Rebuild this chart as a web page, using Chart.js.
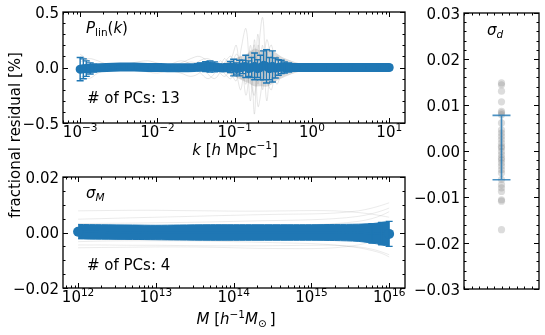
<!DOCTYPE html>
<html>
<head>
<meta charset="utf-8">
<script src="https://cdn.jsdelivr.net/npm/chart.js@4/dist/chart.umd.min.js"></script>
<style>
html, body { margin: 0; padding: 0; background: #fff; }
#wrap { position: relative; width: 545px; height: 335px; }
#wrap canvas { position: absolute; left: 0; top: 0; }
</style>
</head>
<body>
<div id="wrap">
  <canvas id="pk" width="545" height="335"></canvas>
  <canvas id="hmf" width="545" height="335"></canvas>
  <canvas id="sd" width="545" height="335"></canvas>
</div>
<script>
const BLUE = '#1f77b4';
const FONT = '"DejaVu Sans"';

// ---- top panel: P_lin(k) residuals [%] ----
const kPts = [0.001, 0.0011, 0.0012, 0.00135, 0.0015, 0.0018, 0.0022, 0.0027, 0.0033, 0.004,
  0.005, 0.006, 0.0075, 0.009, 0.011, 0.0135, 0.0165, 0.02, 0.025, 0.03,
  0.036, 0.042, 0.048, 0.055, 0.062, 0.07, 0.079, 0.088, 0.097, 0.106,
  0.116, 0.127, 0.139, 0.152, 0.166, 0.181, 0.198, 0.216, 0.236, 0.258,
  0.282, 0.308, 0.336, 0.367, 0.4, 0.44, 0.5, 0.58, 0.7, 0.85,
  1.0, 1.5, 2.2, 3.3, 5, 7.5, 10];
const pkMean = [-0.015, -0.012, -0.01, -0.008, -0.005, -0.003, 0.0, 0.002, 0.004, 0.005,
  0.004, 0.002, 0.0, 0.0, 0.0, -0.002, -0.003, -0.003, -0.002, 0.0,
  0.005, 0.008, 0.01, 0.006, 0.0, -0.005, 0.0, 0.005, 0.0, -0.01,
  -0.005, 0.005, 0.01, -0.01, 0.0, 0.01, -0.01, 0.0, 0.02, 0.01,
  -0.01, 0.01, -0.005, 0.0, 0.005, 0.0, 0.0, 0.0, 0.0, 0.0,
  0.0, 0.0, 0.0, 0.0, 0.0, 0.0, 0.0];
const pkErr = [0.105, 0.09, 0.07, 0.05, 0.035, 0.02, 0.015, 0.015, 0.02, 0.025,
  0.025, 0.02, 0.02, 0.02, 0.02, 0.02, 0.02, 0.02, 0.025, 0.025,
  0.035, 0.045, 0.05, 0.045, 0.03, 0.025, 0.035, 0.05, 0.075, 0.05,
  0.07, 0.06, 0.1, 0.07, 0.09, 0.12, 0.08, 0.11, 0.13, 0.15,
  0.1, 0.14, 0.09, 0.07, 0.06, 0.05, 0.04, 0.03, 0.025, 0.02,
  0.02, 0.02, 0.02, 0.02, 0.02, 0.02, 0.02];

const kGray = [0.001, 0.0013, 0.0017, 0.0022, 0.003, 0.004, 0.0055, 0.0075, 0.01, 0.014,
  0.02, 0.027, 0.035, 0.045, 0.055, 0.065, 0.075, 0.09, 0.105, 0.12,
  0.14, 0.16, 0.18, 0.2, 0.23, 0.26, 0.3, 0.35, 0.4, 0.47,
  0.55, 0.7, 1, 2, 5, 10];
const pkGray1 = [0.1, 0.05, 0.02, 0.0, -0.01, 0.0, 0.02, 0.03, 0.02, 0.0, -0.02, 0.0, 0.06, 0.08, 0.03, -0.05, -0.08, 0.0, 0.12, 0.05, -0.15, 0.2, -0.1, 0.3, -0.2, 0.15, -0.1, 0.08, -0.05, 0.03, 0.02, 0.02, 0.02, 0.02, 0.02, 0.02];
const pkGray2 = [-0.08, -0.1, -0.05, -0.02, 0.0, 0.01, 0.0, -0.02, -0.03, -0.01, 0.02, 0.05, 0.02, -0.06, -0.1, -0.04, 0.05, 0.1, -0.05, -0.2, 0.1, -0.3, 0.25, -0.15, 0.2, -0.3, 0.1, -0.05, 0.04, -0.02, -0.02, -0.02, -0.02, -0.02, -0.02, -0.02];
const pkGray3 = [0.05, 0.08, 0.06, 0.03, 0.02, 0.03, 0.05, 0.06, 0.04, 0.02, 0.04, 0.08, 0.1, 0.05, -0.02, 0.02, 0.08, -0.05, -0.12, 0.15, 0.35, -0.1, -0.25, 0.1, 0.45, -0.1, -0.2, 0.1, 0.05, -0.04, 0.02, 0.01, 0.01, 0.01, 0.01, 0.01];
const pkGray4 = [-0.02, -0.03, -0.04, -0.03, -0.02, -0.01, -0.02, -0.04, -0.05, -0.03, -0.05, -0.08, -0.05, 0.02, 0.05, 0.0, -0.06, -0.1, 0.05, 0.1, -0.25, 0.05, 0.2, -0.35, -0.1, 0.25, 0.05, -0.15, -0.06, 0.02, -0.02, -0.01, -0.01, -0.01, -0.01, -0.01];
const pkGray5 = [0.12, 0.06, 0.0, -0.03, -0.02, 0.0, 0.01, 0.0, -0.01, 0.02, 0.06, 0.03, -0.04, -0.1, -0.05, 0.06, 0.02, 0.08, 0.2, -0.1, 0.05, 0.15, -0.42, 0.2, -0.05, 0.1, 0.2, -0.08, 0.02, 0.05, -0.01, 0.0, 0.0, 0.0, 0.0, 0.0];

const kDense = [0.06, 0.08, 0.1, 0.12, 0.15, 0.18, 0.22, 0.27, 0.33, 0.4, 0.5, 0.6, 0.8, 1.2, 3, 10];
const denseUp = [0.03, 0.05, 0.08, 0.1, 0.13, 0.17, 0.15, 0.17, 0.14, 0.1, 0.07, 0.05, 0.03, 0.025, 0.02, 0.02];
const denseDn = [-0.03, -0.05, -0.08, -0.11, -0.14, -0.17, -0.17, -0.17, -0.13, -0.1, -0.07, -0.05, -0.03, -0.025, -0.02, -0.02];

const pkExp = ['−3', '−2', '−1', '0', '1'];
const pkYTicks = [-0.5, 0, 0.5];
const pkYLabels = ['−0.5', '0.0', '0.5'];

// ---- bottom panel: sigma_M residuals ----
const mGrid = [1e12, 2e12, 5e12, 1e13, 2e13, 5e13, 1e14, 2e14, 5e14, 1e15, 2e15, 4e15, 6e15, 8e15, 1e16];
const hmfMean = [0.0003, 0.0002, 0.0001, 0, 0, 0, 0, 0, 0, 0, 0, -0.0001, -0.0003, -0.0004, -0.0005];
const hmfErr = [0.0026, 0.0026, 0.0026, 0.0026, 0.0027, 0.0028, 0.0028, 0.0028, 0.0028, 0.0028, 0.0029, 0.0031, 0.0035, 0.004, 0.0045];
const hmfGray1 = [0.0078, 0.0079, 0.008, 0.008, 0.0079, 0.0078, 0.0077, 0.0077, 0.0078, 0.0079, 0.0078, 0.0072, 0.0066, 0.006, 0.0055];
const hmfGray2 = [0.0048, 0.005, 0.0053, 0.0055, 0.0057, 0.006, 0.0062, 0.0064, 0.0066, 0.0067, 0.007, 0.0078, 0.0088, 0.0098, 0.0107];
const hmfGray3 = [-0.0045, -0.0045, -0.0046, -0.0046, -0.0047, -0.0048, -0.0048, -0.0048, -0.0047, -0.0046, -0.0046, -0.0052, -0.006, -0.007, -0.008];
const hmfGray4 = [-0.0033, -0.0031, -0.003, -0.003, -0.003, -0.0031, -0.0033, -0.0035, -0.0038, -0.004, -0.0045, -0.0055, -0.0065, -0.0075, -0.0088];
const hmfGray5 = [0.0032, 0.0033, 0.0034, 0.0035, 0.0036, 0.0038, 0.004, 0.0042, 0.0044, 0.0046, 0.005, 0.0058, 0.0068, 0.0078, 0.0088];
const hmfGray6 = [-0.0055, -0.0054, -0.0053, -0.0052, -0.0052, -0.0053, -0.0055, -0.0057, -0.0058, -0.0058, -0.0055, -0.0045, -0.0032, -0.0018, -0.0005];
const hmfGray7 = [0.0018, 0.0019, 0.002, 0.002, 0.0021, 0.0022, 0.0023, 0.0024, 0.0026, 0.0028, 0.0032, 0.004, 0.005, 0.0062, 0.0075];

const hmfExp = ['12', '13', '14', '15', '16'];
const hmfYTicks = [-0.02, 0, 0.02];
const hmfYLabels = ['−0.02', '0.00', '0.02'];

// ---- right panel: sigma_d ----
const sdVals = [0.0148, 0.0144, 0.013, 0.0107, 0.0086, 0.0083, 0.0079, 0.0061, 0.0046, 0.0039,
  0.0032, 0.0025, 0.0017, 0.001, 0.0007, -0.0001, -0.0008, -0.0015, -0.0019, -0.0026,
  -0.0033, -0.0041, -0.0048, -0.0062, -0.0073, -0.008, -0.0088, -0.0106, -0.0109, -0.0171];
const sdMean = 0.00075;
const sdErr = 0.007;
const sdYTicks = [-0.03, -0.02, -0.01, 0, 0.01, 0.02, 0.03];
const sdYLabels = ['−0.03', '−0.02', '−0.01', '0.00', '0.01', '0.02', '0.03'];

function xy(xs, ys) { return xs.map((x, i) => ({ x: x, y: ys[i] })); }

function rich(ctx, parts, x, y, align, size) {
  const runs = parts.map(p => {
    const s = (p.sup || p.sub) ? size * 0.7 : size;
    const font = (p.i ? 'italic ' : '') + s + 'px ' + FONT;
    ctx.font = font;
    return { p: p, font: font, w: ctx.measureText(p.t).width };
  });
  const total = runs.reduce((s, r) => s + r.w, 0);
  let cx = align === 'center' ? x - total / 2 : (align === 'right' ? x - total : x);
  ctx.textAlign = 'left';
  ctx.textBaseline = 'alphabetic';
  runs.forEach(r => {
    ctx.font = r.font;
    const dy = r.p.sup ? -size * 0.38 : (r.p.sub ? size * 0.18 : 0);
    ctx.fillText(r.p.t, cx, y + dy);
    cx += r.w;
  });
}

// frame, inward ticks on all sides, labels, error bars
const deco = {
  id: 'deco',
  afterDatasetsDraw(chart, args, o) {
    const ctx = chart.ctx, a = chart.chartArea;
    const xs = chart.scales.x, ys = chart.scales.y;
    ctx.save();
    if (o.err) {
      const e = o.err;
      ctx.strokeStyle = e.color;
      ctx.lineWidth = e.width;
      e.x.forEach((xv, i) => {
        const px = xs.getPixelForValue(xv);
        const t = ys.getPixelForValue(e.y[i] + e.e[i]);
        const b = ys.getPixelForValue(e.y[i] - e.e[i]);
        ctx.beginPath();
        ctx.moveTo(px, t); ctx.lineTo(px, b);
        ctx.moveTo(px - e.cap, t); ctx.lineTo(px + e.cap, t);
        ctx.moveTo(px - e.cap, b); ctx.lineTo(px + e.cap, b);
        ctx.stroke();
      });
    }
    ctx.strokeStyle = '#000';
    ctx.lineWidth = 1;
    const seg = (x1, y1, x2, y2) => { ctx.beginPath(); ctx.moveTo(x1, y1); ctx.lineTo(x2, y2); ctx.stroke(); };
    const xt = (v, len) => {
      const p = Math.round(xs.getPixelForValue(v)) + 0.5;
      if (p < a.left || p > a.right) return;
      seg(p, a.bottom, p, a.bottom - len); seg(p, a.top, p, a.top + len);
    };
    const yt = (v, len) => {
      const p = Math.round(ys.getPixelForValue(v)) + 0.5;
      if (p < a.top - 1 || p > a.bottom + 1) return;
      seg(a.left, p, a.left + len, p); seg(a.right, p, a.right - len, p);
    };
    if (o.logx) {
      for (let e = o.logx.from - 1; e <= o.logx.from + o.logx.exp.length; e++) {
        for (let m = 2; m <= 9; m++) xt(m * Math.pow(10, e), 2.5);
      }
      ctx.fillStyle = '#000';
      o.logx.exp.forEach((ex, i) => {
        const v = Math.pow(10, o.logx.from + i);
        xt(v, 5);
        rich(ctx, [{ t: '10' }, { t: ex, sup: true }], xs.getPixelForValue(v), o.logx.base, 'center', 15);
      });
    }
    if (o.linx) {
      for (let i = 0; i <= o.linx.n; i++) xt(o.linx.min + i * o.linx.step, 2.5);
    }
    for (let i = 0; i <= o.yminor.n; i++) yt(o.yminor.min + i * o.yminor.step, 2.5);
    ctx.fillStyle = '#000';
    ctx.font = '15px ' + FONT;
    o.yticks.forEach((v, i) => {
      yt(v, 5);
      ctx.textAlign = 'right';
      ctx.textBaseline = 'alphabetic';
      ctx.fillText(o.ylabels[i], a.left - 4, ys.getPixelForValue(v) + 5.5);
    });
    ctx.lineWidth = 1.3;
    ctx.strokeRect(a.left, a.top, a.right - a.left, a.bottom - a.top);
    (o.texts || []).forEach(t => rich(ctx, t.parts, t.x, t.y, t.align, 15));
    if (o.ylabel) {
      ctx.translate(20, 135);
      ctx.rotate(-Math.PI / 2);
      ctx.font = '15px ' + FONT;
      ctx.textAlign = 'center';
      ctx.textBaseline = 'alphabetic';
      ctx.fillText(o.ylabel, 0, 0);
    }
    ctx.restore();
  }
};

const common = {
  responsive: false,
  animation: false,
  devicePixelRatio: 1,
  events: []
};
const hiddenPlugins = { legend: { display: false }, tooltip: { enabled: false } };
const grayLine = (xs, ys, c) => ({
  data: xy(xs, ys), borderColor: c, borderWidth: 1, pointRadius: 0, tension: 0.35, fill: false, order: 5
});

new Chart(document.getElementById('pk'), {
  type: 'line',
  data: {
    datasets: [
      { data: xy(kPts, pkMean), borderColor: BLUE, borderWidth: 9, borderCapStyle: 'round', borderJoinStyle: 'round', pointRadius: 0, fill: false, order: 0 },
      { data: xy(kDense, denseUp), borderWidth: 0, pointRadius: 0, tension: 0.3, fill: '+1', backgroundColor: 'rgba(110,110,110,0.24)', order: 3 },
      { data: xy(kDense, denseDn), borderWidth: 0, pointRadius: 0, tension: 0.3, fill: false, order: 3 },
      grayLine(kGray, pkGray1, 'rgba(128,128,128,0.2)'),
      grayLine(kGray, pkGray2, 'rgba(128,128,128,0.2)'),
      grayLine(kGray, pkGray3, 'rgba(128,128,128,0.2)'),
      grayLine(kGray, pkGray4, 'rgba(128,128,128,0.2)'),
      grayLine(kGray, pkGray5, 'rgba(128,128,128,0.2)')
    ]
  },
  options: Object.assign({}, common, {
    layout: { padding: { left: 63, top: 12, right: 140, bottom: 212 } },
    scales: {
      x: { type: 'logarithmic', min: 6.4e-4, max: 16, display: false },
      y: { type: 'linear', min: -0.5, max: 0.5, display: false }
    },
    plugins: Object.assign({}, hiddenPlugins, {
      deco: {
        err: { x: kPts, y: pkMean, e: pkErr, color: BLUE, width: 1.4, cap: 3.5 },
        logx: { from: -3, exp: pkExp, base: 137 },
        yminor: { min: -0.5, step: 0.1, n: 10 },
        yticks: pkYTicks, ylabels: pkYLabels,
        ylabel: 'fractional residual [%]',
        texts: [
          { parts: [{ t: 'P', i: true }, { t: 'lin', sub: true }, { t: '(' }, { t: 'k', i: true }, { t: ')' }], x: 86, y: 33, align: 'left' },
          { parts: [{ t: '# of PCs: 13' }], x: 87, y: 103, align: 'left' },
          { parts: [{ t: 'k', i: true }, { t: ' [' }, { t: 'h', i: true }, { t: ' Mpc' }, { t: '−1', sup: true }, { t: ']' }], x: 235, y: 155, align: 'center' }
        ]
      }
    })
  }),
  plugins: [deco]
});

new Chart(document.getElementById('hmf'), {
  type: 'line',
  data: {
    datasets: [
      { data: xy(mGrid, hmfMean), borderColor: BLUE, borderWidth: 2, pointRadius: ctx => (ctx.dataIndex === 0 || ctx.dataIndex === mGrid.length - 1) ? 5 : 0, pointBackgroundColor: BLUE, pointBorderWidth: 0, fill: false, order: 0 },
      { data: xy(mGrid, hmfMean.map((m, i) => m + hmfErr[i])), borderColor: BLUE, borderWidth: 1, pointRadius: 0, tension: 0.3, fill: '+1', backgroundColor: BLUE, order: 1 },
      { data: xy(mGrid, hmfMean.map((m, i) => m - hmfErr[i])), borderColor: BLUE, borderWidth: 1, pointRadius: 0, tension: 0.3, fill: false, order: 1 },
      grayLine(mGrid, hmfGray1, 'rgba(128,128,128,0.16)'),
      grayLine(mGrid, hmfGray2, 'rgba(128,128,128,0.16)'),
      grayLine(mGrid, hmfGray3, 'rgba(128,128,128,0.16)'),
      grayLine(mGrid, hmfGray4, 'rgba(128,128,128,0.16)'),
      grayLine(mGrid, hmfGray5, 'rgba(128,128,128,0.16)'),
      grayLine(mGrid, hmfGray6, 'rgba(128,128,128,0.16)'),
      grayLine(mGrid, hmfGray7, 'rgba(128,128,128,0.16)')
    ]
  },
  options: Object.assign({}, common, {
    layout: { padding: { left: 63, top: 177, right: 140, bottom: 47 } },
    scales: {
      x: { type: 'logarithmic', min: 6.4e11, max: 1.6e16, display: false },
      y: { type: 'linear', min: -0.02, max: 0.02, display: false }
    },
    plugins: Object.assign({}, hiddenPlugins, {
      deco: {
        err: { x: mGrid.slice(-3), y: hmfMean.slice(-3), e: hmfErr.slice(-3), color: BLUE, width: 1.4, cap: 3.5 },
        logx: { from: 12, exp: hmfExp, base: 302 },
        yminor: { min: -0.02, step: 0.005, n: 8 },
        yticks: hmfYTicks, ylabels: hmfYLabels,
        texts: [
          { parts: [{ t: 'σ', i: true }, { t: 'M', i: true, sub: true }], x: 86, y: 198, align: 'left' },
          { parts: [{ t: '# of PCs: 4' }], x: 87, y: 270, align: 'left' },
          { parts: [{ t: 'M', i: true }, { t: ' [' }, { t: 'h', i: true }, { t: '−1', sup: true }, { t: 'M', i: true }, { t: '⊙', sub: true }, { t: '\u2009]' }], x: 236, y: 324, align: 'center' }
        ]
      }
    })
  }),
  plugins: [deco]
});

new Chart(document.getElementById('sd'), {
  type: 'scatter',
  data: {
    datasets: [
      { data: sdVals.map(v => ({ x: 0, y: v })), pointRadius: 3.6, pointBackgroundColor: 'rgba(128,128,128,0.28)', pointBorderWidth: 0 }
    ]
  },
  options: Object.assign({}, common, {
    layout: { padding: { left: 464, top: 13, right: 6, bottom: 46 } },
    scales: {
      x: { type: 'linear', min: -1, max: 1, display: false },
      y: { type: 'linear', min: -0.03, max: 0.03, display: false }
    },
    plugins: Object.assign({}, hiddenPlugins, {
      deco: {
        err: { x: [0], y: [sdMean], e: [sdErr], color: 'rgba(31,119,180,0.8)', width: 1.6, cap: 9 },
        linx: { min: -1, step: 0.2, n: 10 },
        yminor: { min: -0.03, step: 0.002, n: 30 },
        yticks: sdYTicks, ylabels: sdYLabels,
        texts: [
          { parts: [{ t: 'σ', i: true }, { t: 'd', i: true, sub: true }], x: 487, y: 35, align: 'left' }
        ]
      }
    })
  }),
  plugins: [deco]
});
</script>
</body>
</html>
